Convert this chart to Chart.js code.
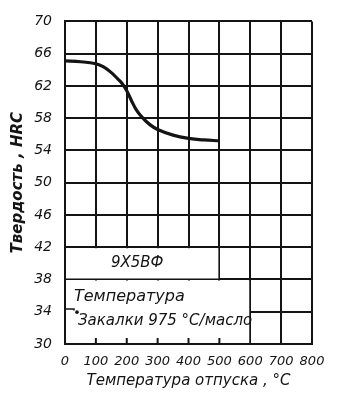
<!DOCTYPE html>
<html>
<head>
<meta charset="utf-8">
<script src="https://cdn.jsdelivr.net/npm/chart.js@4.4.1/dist/chart.umd.min.js"></script>
<style>
  html, body { margin: 0; padding: 0; background: #fff; }
</style>
</head>
<body>
<canvas id="chart" width="337" height="398"></canvas>
<script>
// temperature of tempering, °C and hardness HRC
const temps = [0, 50, 100, 125, 150, 170, 185, 200, 215, 230, 250, 275, 300, 350, 400, 450, 500];
const hardness = [65.1, 65.0, 64.75, 64.35, 63.65, 62.9, 62.3, 61.4, 60.2, 59.1, 58.1, 57.2, 56.6, 55.9, 55.5, 55.3, 55.2];

const xTicks = [0, 100, 200, 300, 400, 500, 600, 700, 800];
const yTicks = [30, 34, 38, 42, 46, 50, 54, 58, 62, 66, 70];

const steelName = '9Х5ВФ';
const noteLines = ['Температура', 'Закалки 975 °С/масло'];

const INK = '#141414';
const FONT = '"DejaVu Sans", sans-serif';

// blank panels inside the grid (in axis units) holding the captions
const panels = [
  { x0: 0, x1: 500, y0: 38, y1: 42 },
  { x0: 0, x1: 600, y0: 30, y1: 38 },
];

const panelPlugin = {
  id: 'panels',
  beforeDatasetsDraw(chart) {
    const { ctx } = chart;
    const x = chart.scales.x;
    const y = chart.scales.y;
    ctx.save();
    ctx.fillStyle = '#fff';
    panels.forEach((p) => {
      const l = x.getPixelForValue(p.x0) + 1;
      const r = x.getPixelForValue(p.x1) - 1;
      const t = y.getPixelForValue(p.y1) + 1;
      const b = y.getPixelForValue(p.y0) - 1;
      ctx.fillRect(l, t, r - l, b - t);
    });

    // short ticks pointing up from the x axis inside the lower panel
    ctx.strokeStyle = INK;
    ctx.lineWidth = 2;
    const base = y.getPixelForValue(30);
    xTicks.forEach((v) => {
      if (v > 0 && v < 600) {
        const px = x.getPixelForValue(v);
        ctx.beginPath();
        ctx.moveTo(px, base);
        ctx.lineTo(px, base - 6);
        ctx.stroke();
      }
    });

    ctx.fillStyle = INK;
    ctx.textBaseline = 'middle';
    ctx.font = 'italic 15px ' + FONT;
    ctx.textAlign = 'center';
    ctx.fillText(steelName, (x.getPixelForValue(0) + x.getPixelForValue(500)) / 2 - 5, y.getPixelForValue(40));

    ctx.textAlign = 'left';
    const lx = x.getPixelForValue(0) + 9;
    ctx.font = 'italic 16px ' + FONT;
    ctx.fillText(noteLines[0], lx, y.getPixelForValue(35.9));
    ctx.font = 'italic 15px ' + FONT;
    ctx.fillText(noteLines[1], lx + 4, y.getPixelForValue(32.9));
    ctx.beginPath();
    ctx.arc(lx + 3, y.getPixelForValue(33.95), 1.8, 0, Math.PI * 2);
    ctx.fill();
    // small hook mark at the left edge
    ctx.lineWidth = 1.5;
    ctx.beginPath();
    ctx.moveTo(x.getPixelForValue(0), y.getPixelForValue(34.35));
    ctx.lineTo(lx, y.getPixelForValue(34.35));
    ctx.lineTo(lx, y.getPixelForValue(34.15));
    ctx.stroke();
    ctx.restore();
  },
};

new Chart(document.getElementById('chart'), {
  type: 'line',
  data: {
    datasets: [
      {
        data: temps.map((t, i) => ({ x: t, y: hardness[i] })),
        borderColor: INK,
        borderWidth: 3.2,
        pointRadius: 0,
        tension: 0.4,
        fill: false,
      },
    ],
  },
  options: {
    responsive: false,
    animation: false,
    layout: { padding: { top: 11, right: 25, left: 0, bottom: 0 } },
    plugins: { legend: { display: false }, tooltip: { enabled: false } },
    scales: {
      x: {
        type: 'linear',
        min: 0,
        max: 800,
        afterBuildTicks: (s) => { s.ticks = xTicks.map((v) => ({ value: v })); },
        afterFit: (s) => { s.height = 54; },
        grid: { color: INK, lineWidth: 2, drawTicks: false },
        border: { color: INK, width: 2 },
        ticks: {
          color: INK,
          padding: 10,
          maxRotation: 0,
          font: { family: FONT, style: 'italic', size: 13 },
        },
        title: {
          display: true,
          text: 'Температура отпуска , °С',
          color: INK,
          padding: { top: 1, bottom: 8 },
          font: { family: FONT, style: 'italic', size: 15 },
        },
      },
      y: {
        type: 'linear',
        min: 30,
        max: 70,
        afterBuildTicks: (s) => { s.ticks = yTicks.map((v) => ({ value: v })); },
        afterFit: (s) => { s.width = 65; },
        grid: { color: INK, lineWidth: 2, drawTicks: false },
        border: { color: INK, width: 2 },
        ticks: {
          color: INK,
          padding: 13,
          font: { family: FONT, style: 'italic', size: 14 },
        },
        title: {
          display: true,
          text: 'Твердость , HRC',
          color: INK,
          padding: { top: 9, bottom: 0 },
          font: { family: FONT, style: 'italic', weight: 'bold', size: 15 },
        },
      },
    },
  },
  plugins: [panelPlugin],
});
</script>
</body>
</html>
